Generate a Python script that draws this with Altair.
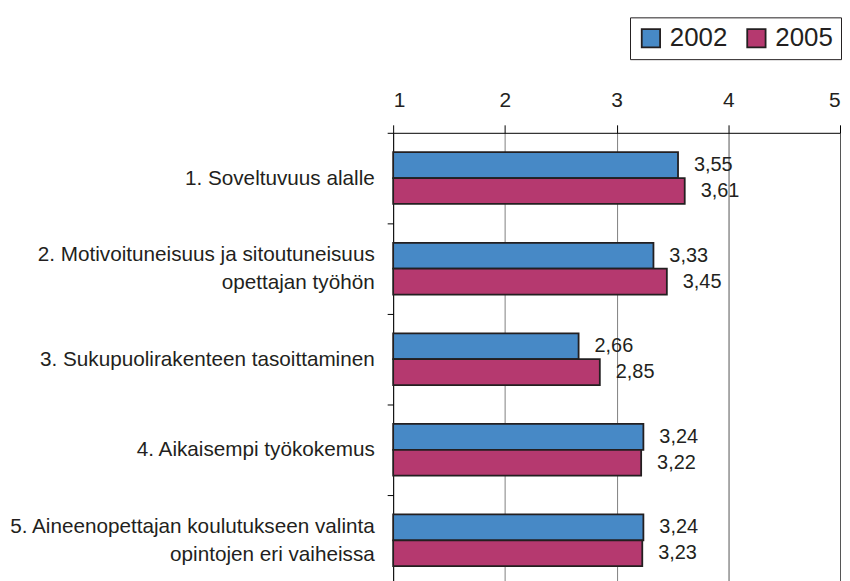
import altair as alt
import pandas as pd

categories = [
    "1. Soveltuvuus alalle",
    "2. Motivoituneisuus ja sitoutuneisuus\nopettajan työhön",
    "3. Sukupuolirakenteen tasoittaminen",
    "4. Aikaisempi työkokemus",
    "5. Aineenopettajan koulutukseen valinta\nopintojen eri vaiheissa",
]
years = ["2002", "2005"]
values_2002 = [3.55, 3.33, 2.66, 3.24, 3.24]
values_2005 = [3.61, 3.45, 2.85, 3.22, 3.23]
x_ticks = [1, 2, 3, 4, 5]
colors = ["#4789c6", "#b5396f"]

rows = []
for c, v in zip(categories, values_2002):
    rows.append({"cat": c, "year": "2002", "value": v})
for c, v in zip(categories, values_2005):
    rows.append({"cat": c, "year": "2005", "value": v})
df = pd.DataFrame(rows)

FONT = "Liberation Sans"
TXT = "#231f20"

y_enc = alt.Y(
    "cat:N",
    sort=categories,
    title=None,
    scale=alt.Scale(paddingInner=0, paddingOuter=0),
    axis=alt.Axis(
        orient="left",
        labelExpr="split(datum.label, '\\n')",
        labelFont=FONT,
        labelFontSize=20.8,
        labelColor=TXT,
        labelLineHeight=28,
        labelAlign="right",
        labelBaseline="middle",
        labelOffset={"condition": {"test": "indexof(datum.label, '\\n') >= 0", "value": -14}, "value": 0},
        labelPadding=13,
        labelLimit=500,
        tickBand="extent",
        tickSize=6,
        tickColor="#000000",
        domainColor="#000000",
        domainWidth=1,
        grid=False,
    ),
)
yoff = alt.YOffset("year:N", sort=years, scale=alt.Scale(paddingInner=0, paddingOuter=0.75))
x_scale = alt.Scale(domain=[1, 5], nice=False, zero=False)

bars = alt.Chart(df).mark_bar(stroke=TXT, strokeWidth=1.8).encode(
    y=y_enc,
    yOffset=yoff,
    x=alt.X(
        "value:Q",
        scale=x_scale,
        title=None,
        axis=alt.Axis(
            orient="top",
            values=x_ticks,
            format="d",
            labelFont=FONT,
            labelFontSize=21,
            labelColor=TXT,
            labelPadding=14,
            tickSize=8,
            tickColor="#000000",
            domainColor="#000000",
            grid=True,
            gridColor={"condition": {"test": "datum.value >= 4", "value": "#555555"}, "value": "#808080"},
            gridWidth=1,
        ),
    ),
    x2=alt.X2(datum=1),
    color=alt.Color(
        "year:N",
        sort=years,
        scale=alt.Scale(domain=years, range=colors),
        legend=alt.Legend(
            title=None,
            orient="none",
            legendX=238,
            legendY=-116,
            direction="horizontal",
            symbolType="square",
            symbolSize=340,
            symbolStrokeColor=TXT,
            symbolStrokeWidth=1.8,
            labelFont=FONT,
            labelFontSize=26,
            labelColor=TXT,
            labelOffset=6,
            columnPadding=16,
            strokeColor="#231f20",
            padding=8,
        ),
    ),
)

labels = alt.Chart(df).transform_calculate(
    lbl="replace(format(datum.value, '.2f'), '.', ',')"
).mark_text(align="left", baseline="middle", dx=16, font=FONT, fontSize=20, color=TXT).encode(
    y=alt.Y("cat:N", sort=categories),
    yOffset=yoff,
    x=alt.X("value:Q", scale=x_scale),
    text="lbl:N",
)

chart = (
    alt.layer(bars, labels)
    .properties(width=449, height=455, padding={"top": 7, "left": 0, "right": 0, "bottom": 5})
    .configure_view(stroke=None)
)

chart.save("out.html", embed_options={"renderer": "svg", "actions": False})
